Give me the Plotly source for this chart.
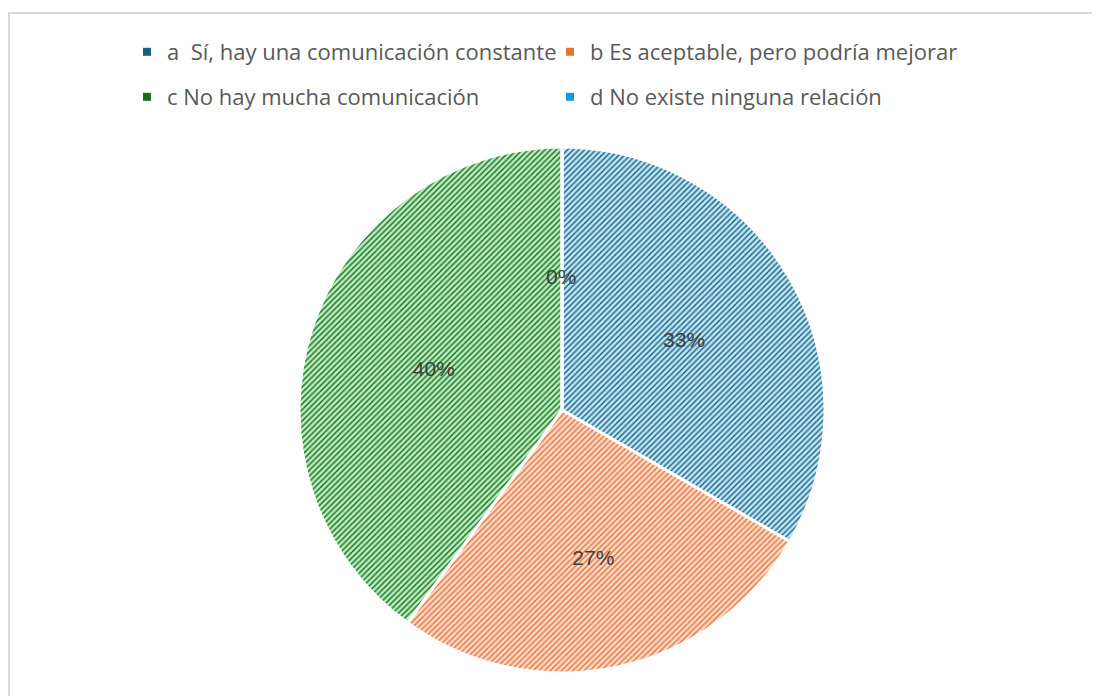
import plotly.graph_objects as go

# Encuesta: relación / comunicación
labels = ["a  Sí, hay una comunicación constante",
          "b Es aceptable, pero podría mejorar",
          "c No hay mucha comunicación",
          "d No existe ninguna relación"]
values = [5, 4, 6, 0]
line_colors = ["#156082", "#E97132", "#196B24", "#0F9ED5"]
fill_colors = ["#C1E4F5", "#FBDACB", "#B9EDBA", "#C7E9F7"]

W, H = 1100, 696
L, R, T, B = 8, 0, 139, 31
total = sum(values)
pct_text = [f"{round(v / total * 100)}%" for v in values]


def px_x(fx):
    return (fx - L) / (W - L - R)


def px_y(fy):
    return (H - B - fy) / (H - T - B)


fig = go.Figure()

fig.add_trace(go.Pie(
    labels=labels,
    values=values,
    text=pct_text,
    textinfo="text",
    textposition="inside",
    insidetextorientation="horizontal",
    textfont=dict(family="Liberation Sans, Arial", size=21, color="#404040"),
    sort=False,
    direction="clockwise",
    rotation=0,
    marker=dict(
        colors=fill_colors,
        line=dict(color="white", width=3),
        pattern=dict(shape="/", fgcolor=line_colors, bgcolor=fill_colors,
                     size=4, solidity=0.35, fillmode="replace"),
    ),
    showlegend=False,
    hoverinfo="label+percent",
))

# 0% label for the empty slice (plotly does not draw zero slices)
fig.add_annotation(x=px_x(553), y=px_y(255), xref="paper", yref="paper",
                   text=pct_text[3], showarrow=False,
                   font=dict(family="Liberation Sans, Arial", size=21, color="#404040"))

# legend entries in two rows
for i, (lab, col) in enumerate(zip(labels, line_colors)):
    fig.add_trace(go.Scatter(
        x=[None], y=[None], mode="markers", name=lab,
        marker=dict(symbol="square", size=8, color=col),
        legend="legend" if i < 2 else "legend2",
        hoverinfo="skip",
    ))

legend_common = dict(
    orientation="h",
    xref="container", yref="container",
    xanchor="left", yanchor="middle",
    entrywidth=378, entrywidthmode="pixels",
    font=dict(family="Open Sans", size=22, color="#595959"),
    bgcolor="rgba(0,0,0,0)",
    itemclick=False, itemdoubleclick=False,
)

fig.update_layout(
    width=W, height=H,
    margin=dict(l=L, r=R, t=T, b=B, autoexpand=False),
    paper_bgcolor="white",
    plot_bgcolor="white",
    legend=dict(x=119 / W, y=1 - 44 / H, **legend_common),
    legend2=dict(x=119 / W, y=1 - 89 / H, **legend_common),
    xaxis=dict(visible=False, fixedrange=True),
    yaxis=dict(visible=False, fixedrange=True),
    shapes=[
        dict(type="line", xref="paper", yref="paper",
             x0=px_x(0), x1=px_x(W + 10), y0=px_y(5), y1=px_y(5),
             line=dict(color="#D9D9D9", width=2)),
        dict(type="line", xref="paper", yref="paper",
             x0=px_x(1), x1=px_x(1), y0=px_y(5), y1=px_y(H + 10),
             line=dict(color="#D9D9D9", width=2)),
    ],
)

fig.write_html("out.html")
